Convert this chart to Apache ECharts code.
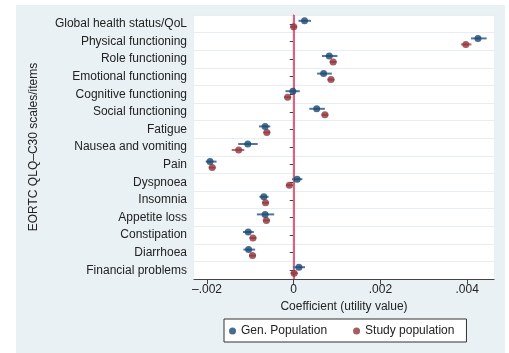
<!DOCTYPE html>
<html><head><meta charset="utf-8">
<script src="https://cdn.jsdelivr.net/npm/echarts@6/dist/echarts.min.js"></script>
<style>html,body{margin:0;padding:0;background:#fff}#c{width:509px;height:353px}</style>
</head><body><div id="c"></div>
<script>
const categories = ["Global health status/QoL","Physical functioning","Role functioning","Emotional functioning","Cognitive functioning","Social functioning","Fatigue","Nausea and vomiting","Pain","Dyspnoea","Insomnia","Appetite loss","Constipation","Diarrhoea","Financial problems"];
const genPop   = [0.00025, 0.00425, 0.00082, 0.00069, -0.00002, 0.00053, -0.00066, -0.00106, -0.00193, 0.00008, -0.00069, -0.00066, -0.00105, -0.00104, 0.00012];
const genLo    = [0.00011, 0.00409, 0.00065, 0.00054, -0.00019, 0.00036, -0.00080, -0.00128, -0.00203, -0.00004, -0.00079, -0.00085, -0.00117, -0.00116, -0.00002];
const genHi    = [0.00040, 0.00445, 0.00101, 0.00088, 0.00014, 0.00072, -0.00054, -0.00083, -0.00178, 0.00020, -0.00058, -0.00045, -0.00092, -0.00089, 0.00026];
const studyPop = [0.00000, 0.00397, 0.00091, 0.00086, -0.00014, 0.00072, -0.00062, -0.00127, -0.00188, -0.00010, -0.00065, -0.00063, -0.00094, -0.00095, 0.00001];
const studyLo  = [-0.00008, 0.00386, 0.00083, 0.00078, -0.00022, 0.00064, -0.00070, -0.00143, -0.00196, -0.00018, -0.00073, -0.00071, -0.00102, -0.00103, -0.00007];
const studyHi  = [0.00008, 0.00410, 0.00099, 0.00094, -0.00006, 0.00080, -0.00054, -0.00114, -0.00180, -0.00002, -0.00057, -0.00055, -0.00086, -0.00087, 0.00009];
const xTicks = [-0.002, 0, 0.002, 0.004];

const BLUE = '#1a476f', RED = '#90353b';
function fmt(v){ if (Math.abs(v) < 1e-12) return '0'; const s = Math.abs(v).toFixed(3).replace(/^0/, ''); return (v < 0 ? '\u2013' : '') + s; }
function ciSeries(lo, hi, color, off){
  return {
    type: 'custom', silent: true, z: 2,
    renderItem: function(params, api){
      const a = api.coord([api.value(0), api.value(2)]);
      const b = api.coord([api.value(1), api.value(2)]);
      return { type: 'line', shape: {x1: a[0], y1: a[1] + off, x2: b[0], y2: b[1] + off}, style: {stroke: color, lineWidth: 2} };
    },
    encode: {x: [0, 1], y: 2},
    data: lo.map((l, i) => [l, hi[i], i])
  };
}
const chart = echarts.init(document.getElementById('c'), null, {renderer: 'canvas'});
const font = 'Liberation Sans, Arial, sans-serif';
chart.setOption({
  animation: false,
  backgroundColor: '#fff',
  graphic: [{type: 'rect', z: -10, shape: {x: 16, y: 5, width: 489, height: 348}, style: {fill: '#eaf1f4'}}],
  grid: {left: 194, right: 15, top: 15, bottom: 74, show: true, backgroundColor: '#fff', borderWidth: 0},
  xAxis: {
    type: 'value', min: -0.0023, max: 0.00462,
    name: 'Coefficient (utility value)', nameLocation: 'middle', nameGap: 22,
    nameTextStyle: {fontFamily: font, fontSize: 12, color: '#222'},
    axisLine: {show: true, lineStyle: {color: '#444', width: 1.2}},
    axisTick: {show: true, length: 5, lineStyle: {color: '#444'}, customValues: xTicks},
    axisLabel: {fontFamily: font, fontSize: 12, color: '#222', margin: 5, customValues: xTicks, formatter: fmt},
    splitLine: {show: false}
  },
  yAxis: {
    type: 'category', data: categories, inverse: true,
    name: 'EORTC QLQ\u2013C30 scales/items', nameLocation: 'middle', nameGap: 154, nameRotate: 90,
    nameTextStyle: {fontFamily: font, fontSize: 12, color: '#222'},
    axisLine: {show: true, lineStyle: {color: '#444', width: 1.2}},
    axisTick: {show: true, alignWithLabel: true, length: 4, lineStyle: {color: '#444'}},
    axisLabel: {fontFamily: font, fontSize: 12, color: '#222', margin: 7},
    splitLine: {show: true, lineStyle: {color: '#e6eef2', width: 1}}
  },
  legend: {
    data: ['Gen. Population', 'Study population'],
    left: 224, top: 319,
    padding: [6, 12, 5, 5], itemGap: 26, itemWidth: 7, itemHeight: 7, icon: 'circle',
    backgroundColor: '#fff', borderColor: '#333', borderWidth: 1,
    textStyle: {fontFamily: font, fontSize: 12, color: '#222'}
  },
  series: [
    ciSeries(genLo, genHi, '#4f76a3', -3),
    ciSeries(studyLo, studyHi, '#c0666c', 3),
    {
      name: 'Gen. Population', type: 'scatter', z: 5, symbol: 'circle', symbolSize: 7, symbolOffset: [0, -3],
      itemStyle: {color: BLUE}, data: genPop.map((v, i) => [v, i]),
      markLine: {silent: true, symbol: 'none', label: {show: false}, lineStyle: {color: '#e0607e', width: 2, type: 'solid'}, data: [{xAxis: 0}], z: 1}
    },
    {
      name: 'Study population', type: 'scatter', z: 4, symbol: 'circle', symbolSize: 7, symbolOffset: [0, 3],
      itemStyle: {color: RED}, data: studyPop.map((v, i) => [v, i])
    }
  ]
});
</script></body></html>
